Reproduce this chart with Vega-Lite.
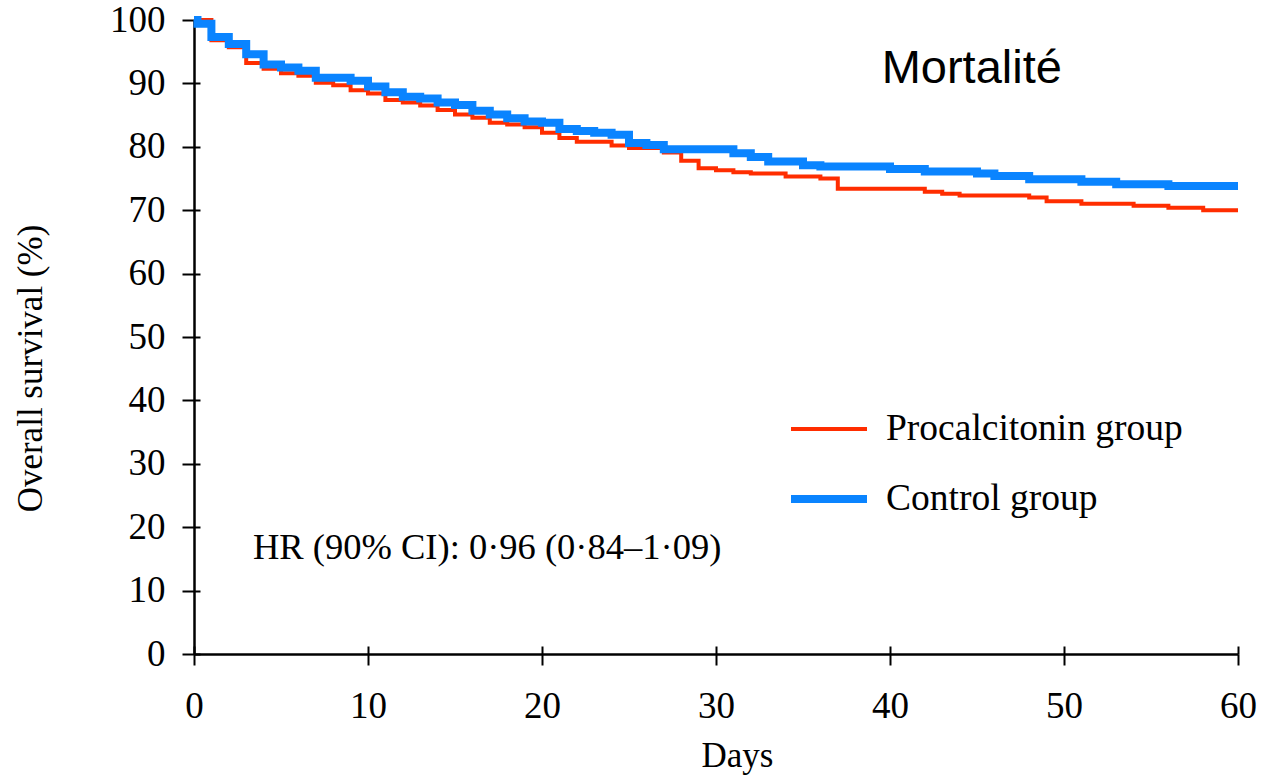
{
  "$schema": "https://vega.github.io/schema/vega-lite/v6.json",
  "width": 1044,
  "height": 634,
  "autosize": {"type": "none"},
  "padding": {"left": 194, "top": 20, "right": 27, "bottom": 124},
  "background": "white",
  "config": {
    "view": {"stroke": null},
    "axis": {
      "grid": false,
      "domainColor": "black",
      "domainWidth": 2.5,
      "tickColor": "black",
      "tickWidth": 2,
      "labelFont": "Liberation Serif",
      "labelColor": "black",
      "labelFontSize": 37,
      "titleFont": "Liberation Serif",
      "titleFontSize": 35,
      "titleFontWeight": "normal",
      "titleColor": "black"
    }
  },
  "resolve": {"axis": {"x": "independent", "y": "independent"}},
  "datasets": {
    "km": [
      {"group": "Procalcitonin group", "day": 0, "survival": 100},
      {"group": "Procalcitonin group", "day": 1, "survival": 96.8},
      {"group": "Procalcitonin group", "day": 2, "survival": 95.7},
      {"group": "Procalcitonin group", "day": 3, "survival": 93.2},
      {"group": "Procalcitonin group", "day": 4, "survival": 92.3},
      {"group": "Procalcitonin group", "day": 5, "survival": 91.6},
      {"group": "Procalcitonin group", "day": 6, "survival": 91.2},
      {"group": "Procalcitonin group", "day": 7, "survival": 90.1},
      {"group": "Procalcitonin group", "day": 8, "survival": 89.7},
      {"group": "Procalcitonin group", "day": 9, "survival": 88.9},
      {"group": "Procalcitonin group", "day": 10, "survival": 88.4},
      {"group": "Procalcitonin group", "day": 11, "survival": 87.4},
      {"group": "Procalcitonin group", "day": 12, "survival": 87.0},
      {"group": "Procalcitonin group", "day": 13, "survival": 86.5},
      {"group": "Procalcitonin group", "day": 14, "survival": 85.8},
      {"group": "Procalcitonin group", "day": 15, "survival": 85.1},
      {"group": "Procalcitonin group", "day": 16, "survival": 84.6},
      {"group": "Procalcitonin group", "day": 17, "survival": 83.8},
      {"group": "Procalcitonin group", "day": 18, "survival": 83.5},
      {"group": "Procalcitonin group", "day": 19, "survival": 83.1},
      {"group": "Procalcitonin group", "day": 20, "survival": 82.2},
      {"group": "Procalcitonin group", "day": 21, "survival": 81.4},
      {"group": "Procalcitonin group", "day": 22, "survival": 80.8},
      {"group": "Procalcitonin group", "day": 24, "survival": 80.2},
      {"group": "Procalcitonin group", "day": 25, "survival": 79.8},
      {"group": "Procalcitonin group", "day": 27, "survival": 79.1},
      {"group": "Procalcitonin group", "day": 28, "survival": 77.8},
      {"group": "Procalcitonin group", "day": 29, "survival": 76.6},
      {"group": "Procalcitonin group", "day": 30, "survival": 76.3},
      {"group": "Procalcitonin group", "day": 31, "survival": 76.0},
      {"group": "Procalcitonin group", "day": 32, "survival": 75.8},
      {"group": "Procalcitonin group", "day": 34, "survival": 75.3},
      {"group": "Procalcitonin group", "day": 36, "survival": 75.0},
      {"group": "Procalcitonin group", "day": 37, "survival": 73.4},
      {"group": "Procalcitonin group", "day": 42, "survival": 72.9},
      {"group": "Procalcitonin group", "day": 43, "survival": 72.6},
      {"group": "Procalcitonin group", "day": 44, "survival": 72.3},
      {"group": "Procalcitonin group", "day": 48, "survival": 72.0},
      {"group": "Procalcitonin group", "day": 49, "survival": 71.4},
      {"group": "Procalcitonin group", "day": 51, "survival": 71.0},
      {"group": "Procalcitonin group", "day": 54, "survival": 70.7},
      {"group": "Procalcitonin group", "day": 56, "survival": 70.4},
      {"group": "Procalcitonin group", "day": 58, "survival": 70.0},
      {"group": "Procalcitonin group", "day": 60, "survival": 70.0},
      {"group": "Control group", "day": 0, "survival": 100},
      {"group": "Control group", "day": 0.2, "survival": 99.4},
      {"group": "Control group", "day": 1, "survival": 97.3},
      {"group": "Control group", "day": 2, "survival": 96.2},
      {"group": "Control group", "day": 3, "survival": 94.6},
      {"group": "Control group", "day": 4, "survival": 93.0},
      {"group": "Control group", "day": 5, "survival": 92.5},
      {"group": "Control group", "day": 6, "survival": 92.0},
      {"group": "Control group", "day": 7, "survival": 90.9},
      {"group": "Control group", "day": 9, "survival": 90.4},
      {"group": "Control group", "day": 10, "survival": 89.5},
      {"group": "Control group", "day": 11, "survival": 88.6},
      {"group": "Control group", "day": 12, "survival": 87.9},
      {"group": "Control group", "day": 13, "survival": 87.6},
      {"group": "Control group", "day": 14, "survival": 87.0},
      {"group": "Control group", "day": 15, "survival": 86.6},
      {"group": "Control group", "day": 16, "survival": 85.7},
      {"group": "Control group", "day": 17, "survival": 85.1},
      {"group": "Control group", "day": 18, "survival": 84.5},
      {"group": "Control group", "day": 19, "survival": 84.0},
      {"group": "Control group", "day": 20, "survival": 83.8},
      {"group": "Control group", "day": 21, "survival": 82.8},
      {"group": "Control group", "day": 22, "survival": 82.5},
      {"group": "Control group", "day": 23, "survival": 82.2},
      {"group": "Control group", "day": 24, "survival": 81.9},
      {"group": "Control group", "day": 25, "survival": 80.6},
      {"group": "Control group", "day": 26, "survival": 80.3},
      {"group": "Control group", "day": 27, "survival": 79.6},
      {"group": "Control group", "day": 31, "survival": 79.0},
      {"group": "Control group", "day": 32, "survival": 78.4},
      {"group": "Control group", "day": 33, "survival": 77.7},
      {"group": "Control group", "day": 35, "survival": 77.1},
      {"group": "Control group", "day": 36, "survival": 76.9},
      {"group": "Control group", "day": 40, "survival": 76.5},
      {"group": "Control group", "day": 42, "survival": 76.1},
      {"group": "Control group", "day": 45, "survival": 75.8},
      {"group": "Control group", "day": 46, "survival": 75.4},
      {"group": "Control group", "day": 48, "survival": 74.9},
      {"group": "Control group", "day": 51, "survival": 74.5},
      {"group": "Control group", "day": 53, "survival": 74.1},
      {"group": "Control group", "day": 56, "survival": 73.8},
      {"group": "Control group", "day": 60, "survival": 73.8}
    ]
  },
  "layer": [
    {
      "data": {"name": "km"},
      "mark": {"type": "line", "interpolate": "step-after", "strokeCap": "butt"},
      "encoding": {
        "x": {
          "field": "day",
          "type": "quantitative",
          "scale": {"domain": [0, 60], "nice": false, "zero": false},
          "axis": {
            "orient": "bottom",
            "title": "Days",
            "values": [0, 10, 20, 30, 40, 50, 60],
            "tickSize": 11,
            "labelPadding": 23,
            "labelFlush": false,
            "titleX": 543,
            "titleY": 101,
            "titleBaseline": "middle",
            "titleAlign": "center"
          }
        },
        "y": {
          "field": "survival",
          "type": "quantitative",
          "scale": {"domain": [0, 100], "nice": false},
          "axis": {
            "orient": "left",
            "title": "Overall survival (%)",
            "values": [0, 10, 20, 30, 40, 50, 60, 70, 80, 90, 100],
            "tickSize": 12,
            "labelPadding": 17,
            "labelFlush": false,
            "titleX": -164,
            "titleY": 348,
            "titleAngle": -90,
            "titleBaseline": "middle",
            "titleAlign": "center"
          }
        },
        "color": {
          "field": "group",
          "type": "nominal",
          "scale": {"domain": ["Procalcitonin group", "Control group"], "range": ["#ff2d00", "#0a84ff"]},
          "legend": {
            "orient": "none",
            "legendX": 593,
            "legendY": 369,
            "title": null,
            "padding": 0,
            "symbolType": "stroke",
            "symbolSize": 5776,
            "labelFont": "Liberation Serif",
            "labelFontSize": 37.5,
            "labelColor": "black",
            "labelOffset": 15,
            "rowPadding": 9,
            "labelLimit": 0
          }
        },
        "strokeWidth": {
          "field": "group",
          "type": "nominal",
          "scale": {"domain": ["Procalcitonin group", "Control group"], "range": [4, 8]},
          "legend": {
            "orient": "none",
            "legendX": 593,
            "legendY": 369,
            "title": null,
            "padding": 0,
            "symbolType": "stroke",
            "symbolSize": 5776,
            "labelFont": "Liberation Serif",
            "labelFontSize": 37.5,
            "labelColor": "black",
            "labelOffset": 15,
            "rowPadding": 9,
            "labelLimit": 0
          }
        }
      }
    },
    {
      "data": {"values": [{"label": "Mortalité"}]},
      "mark": {"type": "text", "font": "Liberation Sans", "fontSize": 47, "align": "center", "baseline": "middle", "color": "black"},
      "encoding": {
        "x": {
          "datum": 44.7,
          "type": "quantitative",
          "axis": {"orient": "bottom", "title": null, "labels": false, "domain": false, "values": [0, 10, 20, 30, 40, 50, 60], "tickSize": -8}
        },
        "y": {
          "datum": 92.3,
          "type": "quantitative",
          "axis": {"orient": "left", "title": null, "labels": false, "domain": false, "values": [0, 10, 20, 30, 40, 50, 60, 70, 80, 90, 100], "tickSize": -6}
        },
        "text": {"field": "label"}
      }
    },
    {
      "data": {"values": [{"label": "HR (90% CI): 0·96 (0·84–1·09)"}]},
      "mark": {"type": "text", "font": "Liberation Serif", "fontSize": 36.5, "align": "left", "baseline": "middle", "color": "black"},
      "encoding": {
        "x": {"datum": 3.39, "type": "quantitative", "axis": null},
        "y": {"datum": 16.7, "type": "quantitative", "axis": null},
        "text": {"field": "label"}
      }
    }
  ]
}
